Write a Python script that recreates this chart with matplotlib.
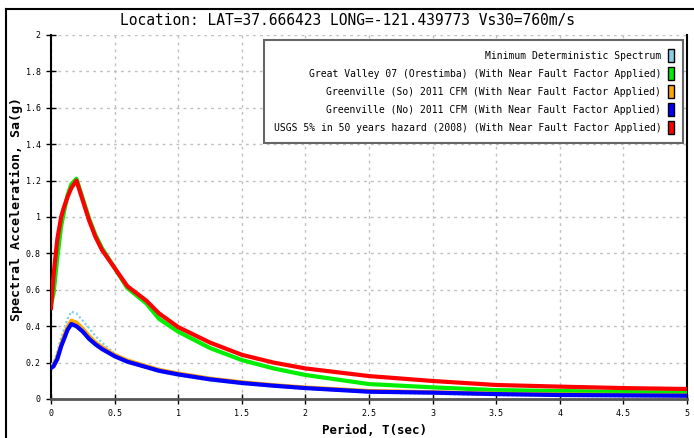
import matplotlib
matplotlib.use('Agg')
import matplotlib.pyplot as plt
from matplotlib.patches import Patch
from matplotlib.lines import Line2D

# ---------------- data ----------------
periods = [0.0, 0.02, 0.05, 0.08, 0.1, 0.13, 0.16, 0.2, 0.25, 0.3, 0.35, 0.4,
           0.5, 0.6, 0.75, 0.85, 1.0, 1.25, 1.5, 1.75, 2.0, 2.5, 3.0, 3.5,
           4.0, 4.5, 5.0]

min_deterministic = [0.19, 0.20, 0.26, 0.34, 0.38, 0.44, 0.48, 0.47, 0.43, 0.39,
                     0.345, 0.31, 0.25, 0.21, 0.17, 0.15, 0.128, 0.102, 0.083,
                     0.068, 0.056, 0.036, 0.028, 0.021, 0.016, 0.014, 0.012]

great_valley = [0.52, 0.58, 0.78, 0.95, 1.02, 1.12, 1.18, 1.21, 1.10, 0.99,
                0.90, 0.83, 0.72, 0.61, 0.525, 0.44, 0.37, 0.28, 0.214, 0.168,
                0.132, 0.082, 0.064, 0.049, 0.044, 0.038, 0.035]

greenville_so = [0.175, 0.185, 0.23, 0.30, 0.34, 0.395, 0.43, 0.42, 0.385, 0.345,
                 0.31, 0.285, 0.242, 0.212, 0.18, 0.16, 0.14, 0.112, 0.092, 0.076,
                 0.063, 0.044, 0.037, 0.029, 0.025, 0.022, 0.020]

greenville_no = [0.17, 0.18, 0.22, 0.29, 0.325, 0.38, 0.412, 0.40, 0.37, 0.33,
                 0.30, 0.275, 0.235, 0.205, 0.175, 0.155, 0.135, 0.108, 0.088,
                 0.073, 0.06, 0.04, 0.035, 0.027, 0.022, 0.02, 0.018]

usgs_hazard = [0.50, 0.68, 0.88, 1.00, 1.05, 1.11, 1.16, 1.20, 1.09, 0.98,
               0.89, 0.82, 0.72, 0.62, 0.54, 0.47, 0.395, 0.31, 0.243, 0.20,
               0.168, 0.126, 0.099, 0.077, 0.068, 0.06, 0.055]

series_labels = [
    "Minimum Deterministic Spectrum",
    "Great Valley 07 (Orestimba) (With Near Fault Factor Applied)",
    "Greenville (So) 2011 CFM (With Near Fault Factor Applied)",
    "Greenville (No) 2011 CFM (With Near Fault Factor Applied)",
    "USGS 5% in 50 years hazard (2008) (With Near Fault Factor Applied)",
]
series_colors = ["#87CEEB", "#00EE00", "#FFA500", "#0000FF", "#FF0000"]

x_ticks = [0, 0.5, 1, 1.5, 2, 2.5, 3, 3.5, 4, 4.5, 5]
x_tick_labels = ["0", "0.5", "1", "1.5", "2", "2.5", "3", "3.5", "4", "4.5", "5"]
y_ticks = [0, 0.2, 0.4, 0.6, 0.8, 1.0, 1.2, 1.4, 1.6, 1.8, 2.0]
y_tick_labels = ["0", "0.2", "0.4", "0.6", "0.8", "1", "1.2", "1.4", "1.6", "1.8", "2"]

title = "Location: LAT=37.666423 LONG=-121.439773 Vs30=760m/s"
x_label = "Period, T(sec)"
y_label = "Spectral Acceleration, Sa(g)"

# ---------------- figure ----------------
W, H = 694, 438
mono = "DejaVu Sans Mono"
fig = plt.figure(figsize=(W / 100, H / 100), dpi=100)
ax = fig.add_axes([51 / W, 1 - 399 / H, 636 / W, 364 / H])

ax.plot(periods, min_deterministic, color=series_colors[0], lw=1.6,
        linestyle=(0, (1, 1)), zorder=3)
ax.plot(periods, great_valley, color=series_colors[1], lw=3, zorder=4)
ax.plot(periods, usgs_hazard, color=series_colors[4], lw=3, zorder=5)
ax.plot(periods, greenville_so, color=series_colors[2], lw=3, zorder=4)
ax.plot(periods, greenville_no, color=series_colors[3], lw=3, zorder=5)

ax.set_xlim(0, 5)
ax.set_ylim(0, 2)
ax.set_xticks(x_ticks)
ax.set_xticklabels(x_tick_labels, family=mono, fontsize=6)
ax.set_yticks(y_ticks)
ax.set_yticklabels(y_tick_labels, family=mono, fontsize=6)
ax.tick_params(axis='both', direction='inout', length=7, width=1, color='black', pad=4)

ax.grid(True, color='#c0c0c0', linestyle=(0, (2, 3)), linewidth=1)
ax.set_axisbelow(True)

ax.spines['top'].set_visible(False)
ax.spines['left'].set_color('black')
ax.spines['left'].set_linewidth(1.5)
ax.spines['right'].set_color('black')
ax.spines['right'].set_linewidth(1.5)
ax.spines['bottom'].set_color('#555555')
ax.spines['bottom'].set_linewidth(2)

fig.text(374 / W, 1 - 431 / H, x_label, family=mono, fontsize=9,
         fontweight='bold', ha='center', va='center')
fig.text(16 / W, 1 - 209 / H, y_label, family=mono, fontsize=9.5,
         fontweight='bold', ha='center', va='center', rotation=90)
fig.text(348 / W, 1 - 20 / H, title, family=mono, fontsize=10.5,
         ha='center', va='center')

handles = [Patch(facecolor=c, edgecolor='black', linewidth=1) for c in series_colors]
leg = ax.legend(handles, series_labels, loc='upper right',
                bbox_to_anchor=(0.994, 0.987), borderaxespad=0,
                markerfirst=False, fancybox=False, framealpha=1,
                prop={'family': mono, 'size': 7.0},
                handlelength=0.6, handleheight=1.7, handletextpad=0.7,
                labelspacing=0.5, borderpad=0.95)
leg.get_frame().set_edgecolor('#666666')
leg.get_frame().set_linewidth(1.5)
leg.set_zorder(10)

# outer frame
fig.add_artist(Line2D([6 / W, 6 / W], [0, 1 - 9 / H], transform=fig.transFigure,
                      color='black', lw=1.5))
fig.add_artist(Line2D([6 / W, 1], [1 - 9 / H, 1 - 9 / H], transform=fig.transFigure,
                      color='black', lw=1.5))

fig.savefig("out.png", dpi=100)
